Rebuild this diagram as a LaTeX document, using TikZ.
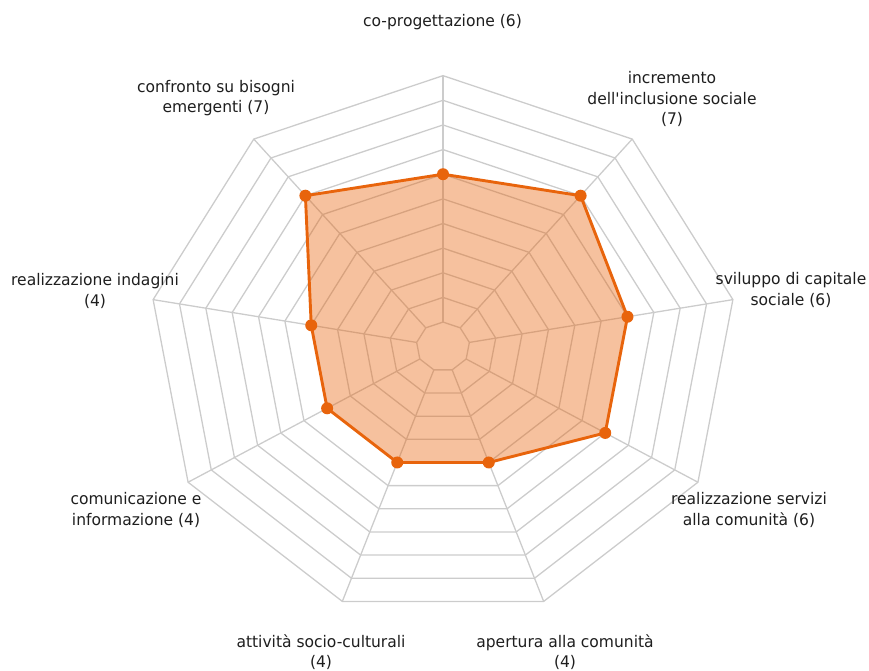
\documentclass[tikz,border=0pt]{standalone}
\usepackage{fontspec}
\setmainfont{DejaVu Sans}[FakeStretch=0.97,Ligatures=TeXOff]
\definecolor{gridgray}{RGB}{204,204,204}
\definecolor{radarorange}{RGB}{232,100,12}
\definecolor{labeltext}{RGB}{30,30,30}
\begin{document}
\begin{tikzpicture}[x=1pt,y=-1pt,
  gridline/.style={draw=gridgray,line width=1.3pt,line join=miter},
  series/.style={draw=radarorange,line width=2.9pt,line join=round,fill=radarorange,fill opacity=0.4,draw opacity=1},
  marker/.style={circle,fill=radarorange,inner sep=0pt,minimum size=12pt},
  axislabel/.style={align=center,inner sep=0pt,text=labeltext,font=\fontsize{16}{20.5}\selectfont}]
\useasboundingbox (0,0) rectangle (869,671);
\def\cx{443}\def\cy{346.7}\def\unit{24.64}\def\xs{1.086}
% concentric nonagon rings, one per value 0..10
\foreach \k in {1,...,11}{
  \draw[gridline] ({\cx},{\cy-\k*\unit})
    \foreach \i in {1,...,8}{ -- ({\cx+\xs*\k*\unit*cos(90-40*\i)},{\cy-\k*\unit*sin(90-40*\i)}) } -- cycle;
}
% spokes from the zero ring to the outer ring
\foreach \i in {0,...,8}{
  \coordinate (in\i) at ({\cx+\xs*\unit*cos(90-40*\i)},{\cy-\unit*sin(90-40*\i)});
  \coordinate (out\i) at ({\cx+\xs*11*\unit*cos(90-40*\i)},{\cy-11*\unit*sin(90-40*\i)});
  \draw[gridline] (in\i) -- (out\i);
}
% data points (value v sits on ring v+1)
\foreach \i/\v in {0/6,1/7,2/6,3/6,4/4,5/4,6/4,7/4,8/7}{
  \coordinate (p\i) at ({\cx+\xs*(\v+1)*\unit*cos(90-40*\i)},{\cy-(\v+1)*\unit*sin(90-40*\i)});
}
\path[series] (p0) -- (p1) -- (p2) -- (p3) -- (p4) -- (p5) -- (p6) -- (p7) -- (p8) -- cycle;
\foreach \i in {0,...,8}{ \node[marker] (m\i) at (p\i) {}; }
% axis labels
\node[axislabel] (l0) at (442.5,22) {co-progettazione (6)};
\node[axislabel] (l1) at (672,99) {incremento\\dell'inclusione sociale\\(7)};
\node[axislabel] (l2) at (791,290) {sviluppo di capitale\\sociale (6)};
\node[axislabel] (l3) at (749,510) {realizzazione servizi\\alla comunità (6)};
\node[axislabel] (l4) at (565,652) {apertura alla comunità\\(4)};
\node[axislabel] (l5) at (321,652) {attività socio-culturali\\(4)};
\node[axislabel] (l6) at (136,510) {comunicazione e\\informazione (4)};
\node[axislabel] (l7) at (95,291) {realizzazione indagini\\(4)};
\node[axislabel] (l8) at (216,98) {confronto su bisogni\\emergenti (7)};
\end{tikzpicture}
\end{document}
